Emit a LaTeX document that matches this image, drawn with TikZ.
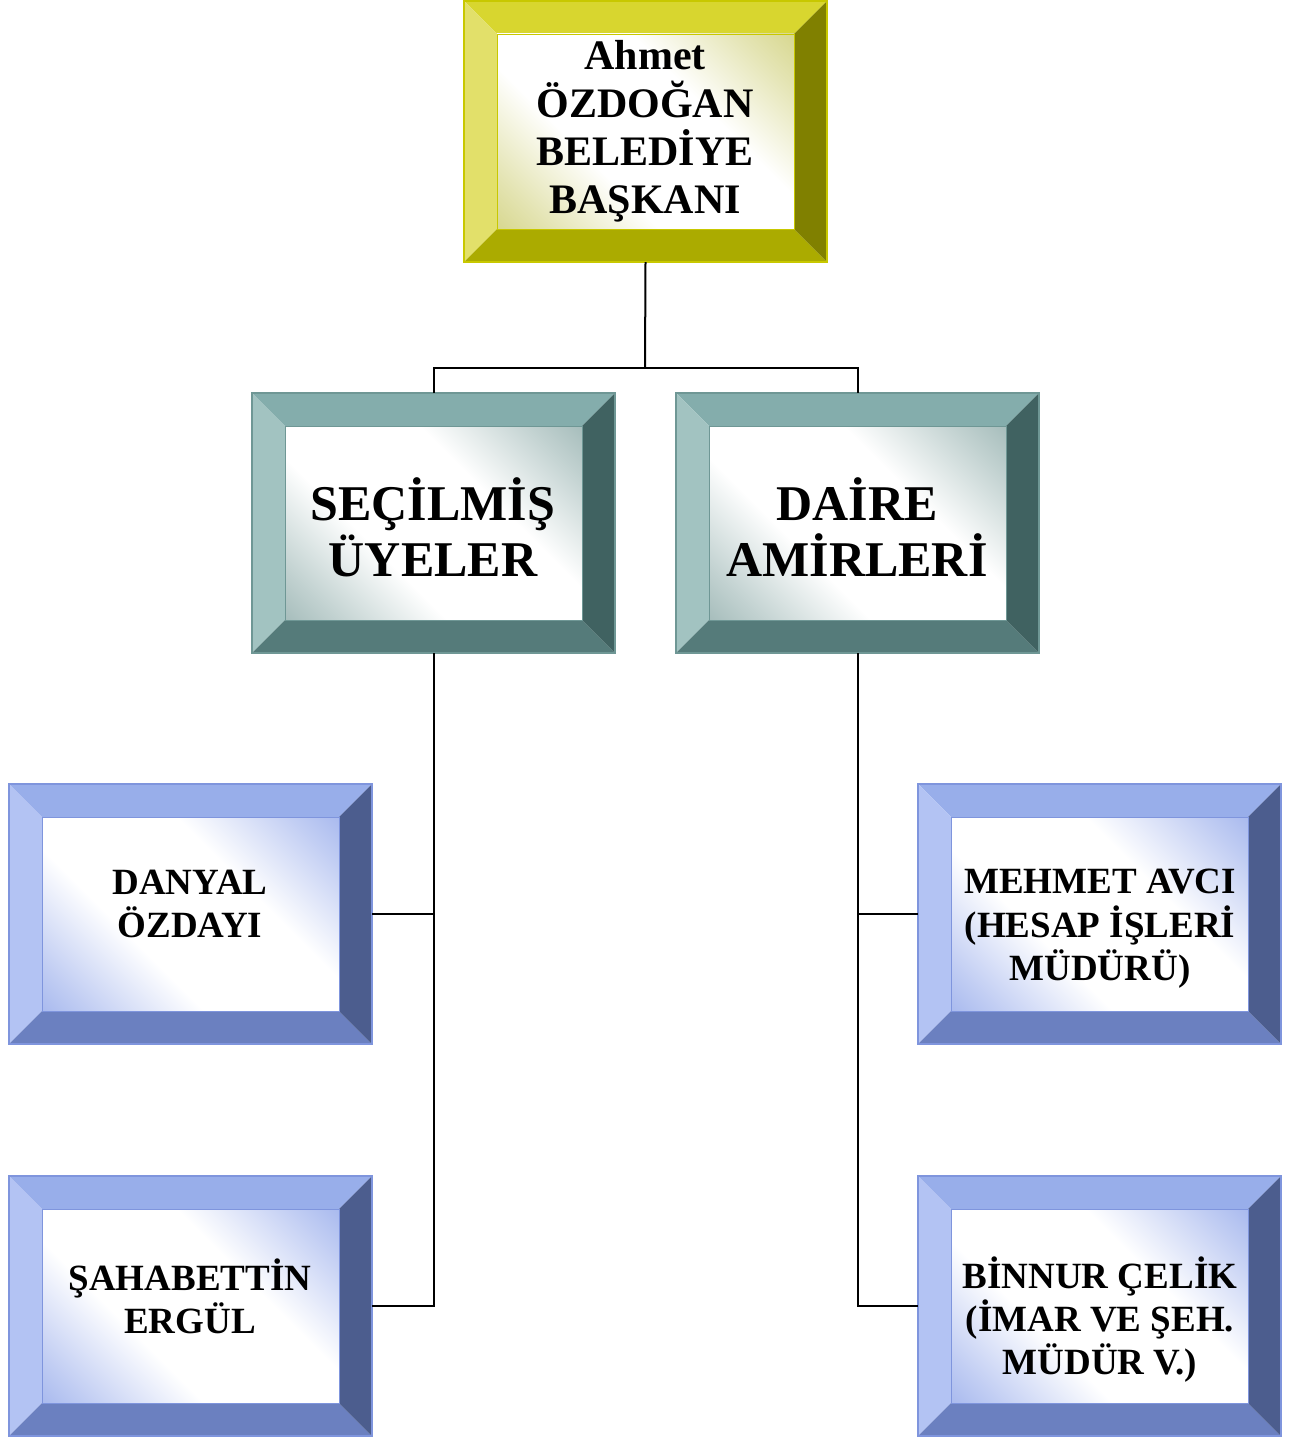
\documentclass[tikz,border=0pt]{standalone}
\usepackage{fontspec}
\setmainfont{Liberation Serif}
\usetikzlibrary{fit}
\definecolor{yT}{HTML}{D8D62F}
\definecolor{yL}{HTML}{E2E06A}
\definecolor{yB}{HTML}{ABAB00}
\definecolor{yR}{HTML}{808000}
\definecolor{yI}{HTML}{CDCD72}
\definecolor{yO}{HTML}{C8C800}
\definecolor{tT}{HTML}{84ADAC}
\definecolor{tL}{HTML}{A2C3C1}
\definecolor{tB}{HTML}{557B7A}
\definecolor{tR}{HTML}{406261}
\definecolor{tI}{HTML}{8FACAA}
\definecolor{tO}{HTML}{6F9795}
\definecolor{bT}{HTML}{98AEEA}
\definecolor{bL}{HTML}{B3C3F3}
\definecolor{bB}{HTML}{6B80C0}
\definecolor{bR}{HTML}{4C5D8E}
\definecolor{bI}{HTML}{93A8EA}
\definecolor{bO}{HTML}{7F95DD}
\pgfdeclareverticalshading{yshade}{100bp}{color(0bp)=(yI); color(8bp)=(yI); color(22bp)=(yI!55!white); color(38bp)=(white); color(62bp)=(white); color(78bp)=(yI!55!white); color(92bp)=(yI); color(100bp)=(yI)}
\pgfdeclareverticalshading{tshade}{100bp}{color(0bp)=(tI); color(8bp)=(tI); color(22bp)=(tI!55!white); color(38bp)=(white); color(62bp)=(white); color(78bp)=(tI!55!white); color(92bp)=(tI); color(100bp)=(tI)}
\pgfdeclareverticalshading{bshade}{100bp}{color(0bp)=(bI); color(8bp)=(bI); color(22bp)=(bI!55!white); color(38bp)=(white); color(62bp)=(white); color(78bp)=(bI!55!white); color(92bp)=(bI); color(100bp)=(bI)}
% name, x1, y1, x2, y2, palette
\newcommand\bevbox[6]{%
  \fill[#6T] (#2,#3) -- (#4,#3) -- (#4-33,#3+33) -- (#2+33,#3+33) -- cycle;
  \fill[#6L] (#2,#3) -- (#2+33,#3+33) -- (#2+33,#5-33) -- (#2,#5) -- cycle;
  \fill[#6B] (#2,#5) -- (#2+33,#5-33) -- (#4-33,#5-33) -- (#4,#5) -- cycle;
  \fill[#6R] (#4,#3) -- (#4,#5) -- (#4-33,#5-33) -- (#4-33,#3+33) -- cycle;
  \shade[shading=#6shade, shading angle=-45]
    (#2+33,#3+33) rectangle (#4-33,#5-33);
  \draw[#6O, line width=0.8pt] (#2+33,#3+33) rectangle (#4-33,#5-33);
  \draw[#6O, line width=1.2pt] (#2,#3) rectangle (#4,#5);
  \coordinate (#1-a) at (#2,#3);
  \coordinate (#1-b) at (#4,#5);
  \node[fit=(#1-a)(#1-b), inner sep=0pt] (#1) {};
}
\tikzset{
  lbl/.style={align=center, inner sep=0pt, font=\bfseries},
  conn/.style={line width=2pt, black}
}
\begin{document}
\begin{tikzpicture}[x=1pt, y=-1pt]
\useasboundingbox (0,0) rectangle (1306,1437);
\bevbox{top}{464}{1}{827}{262}{y}
\bevbox{sec}{252}{393}{615}{653}{t}
\bevbox{dai}{676}{393}{1039}{653}{t}
\bevbox{dan}{9}{784}{372}{1044}{b}
\bevbox{sah}{9}{1176}{372}{1436}{b}
\bevbox{meh}{918}{784}{1281}{1044}{b}
\bevbox{bin}{918}{1176}{1281}{1436}{b}

\node[lbl, font=\bfseries\fontsize{42}{48}\selectfont] (topt) at (645,131) {Ahmet\\ÖZDOĞAN\\BELEDİYE\\BAŞKANI};
\node[lbl, font=\bfseries\fontsize{50}{56}\selectfont] (sect) at (433,527) {SEÇİLMİŞ\\ÜYELER};
\node[lbl, font=\bfseries\fontsize{50}{56}\selectfont] (dait) at (857,527) {DAİRE\\AMİRLERİ};
\node[lbl, font=\bfseries\fontsize{37}{43}\selectfont] (dant) at (190,904) {DANYAL\\ÖZDAYI};
\node[lbl, font=\bfseries\fontsize{37}{43}\selectfont] (saht) at (190,1296) {ŞAHABETTİN\\ERGÜL};
\node[lbl, font=\bfseries\fontsize{37}{43.5}\selectfont] (meht) at (1100,929) {MEHMET AVCI\\(HESAP İŞLERİ\\MÜDÜRÜ)};
\node[lbl, font=\bfseries\fontsize{37}{43}\selectfont] (bint) at (1100,1320) {BİNNUR ÇELİK\\(İMAR VE ŞEH.\\MÜDÜR V.)};

\coordinate (j1) at (645,368);
\draw[conn] (top.south) -- (j1);
\draw[conn] (j1) -| (sec.north);
\draw[conn] (j1) -| (dai.north);
\draw[conn] (sec.south) |- (dan.east);
\draw[conn] (sec.south) |- (sah.east);
\draw[conn] (dai.south) |- (meh.west);
\draw[conn] (dai.south) |- (bin.west);
\end{tikzpicture}
\end{document}
